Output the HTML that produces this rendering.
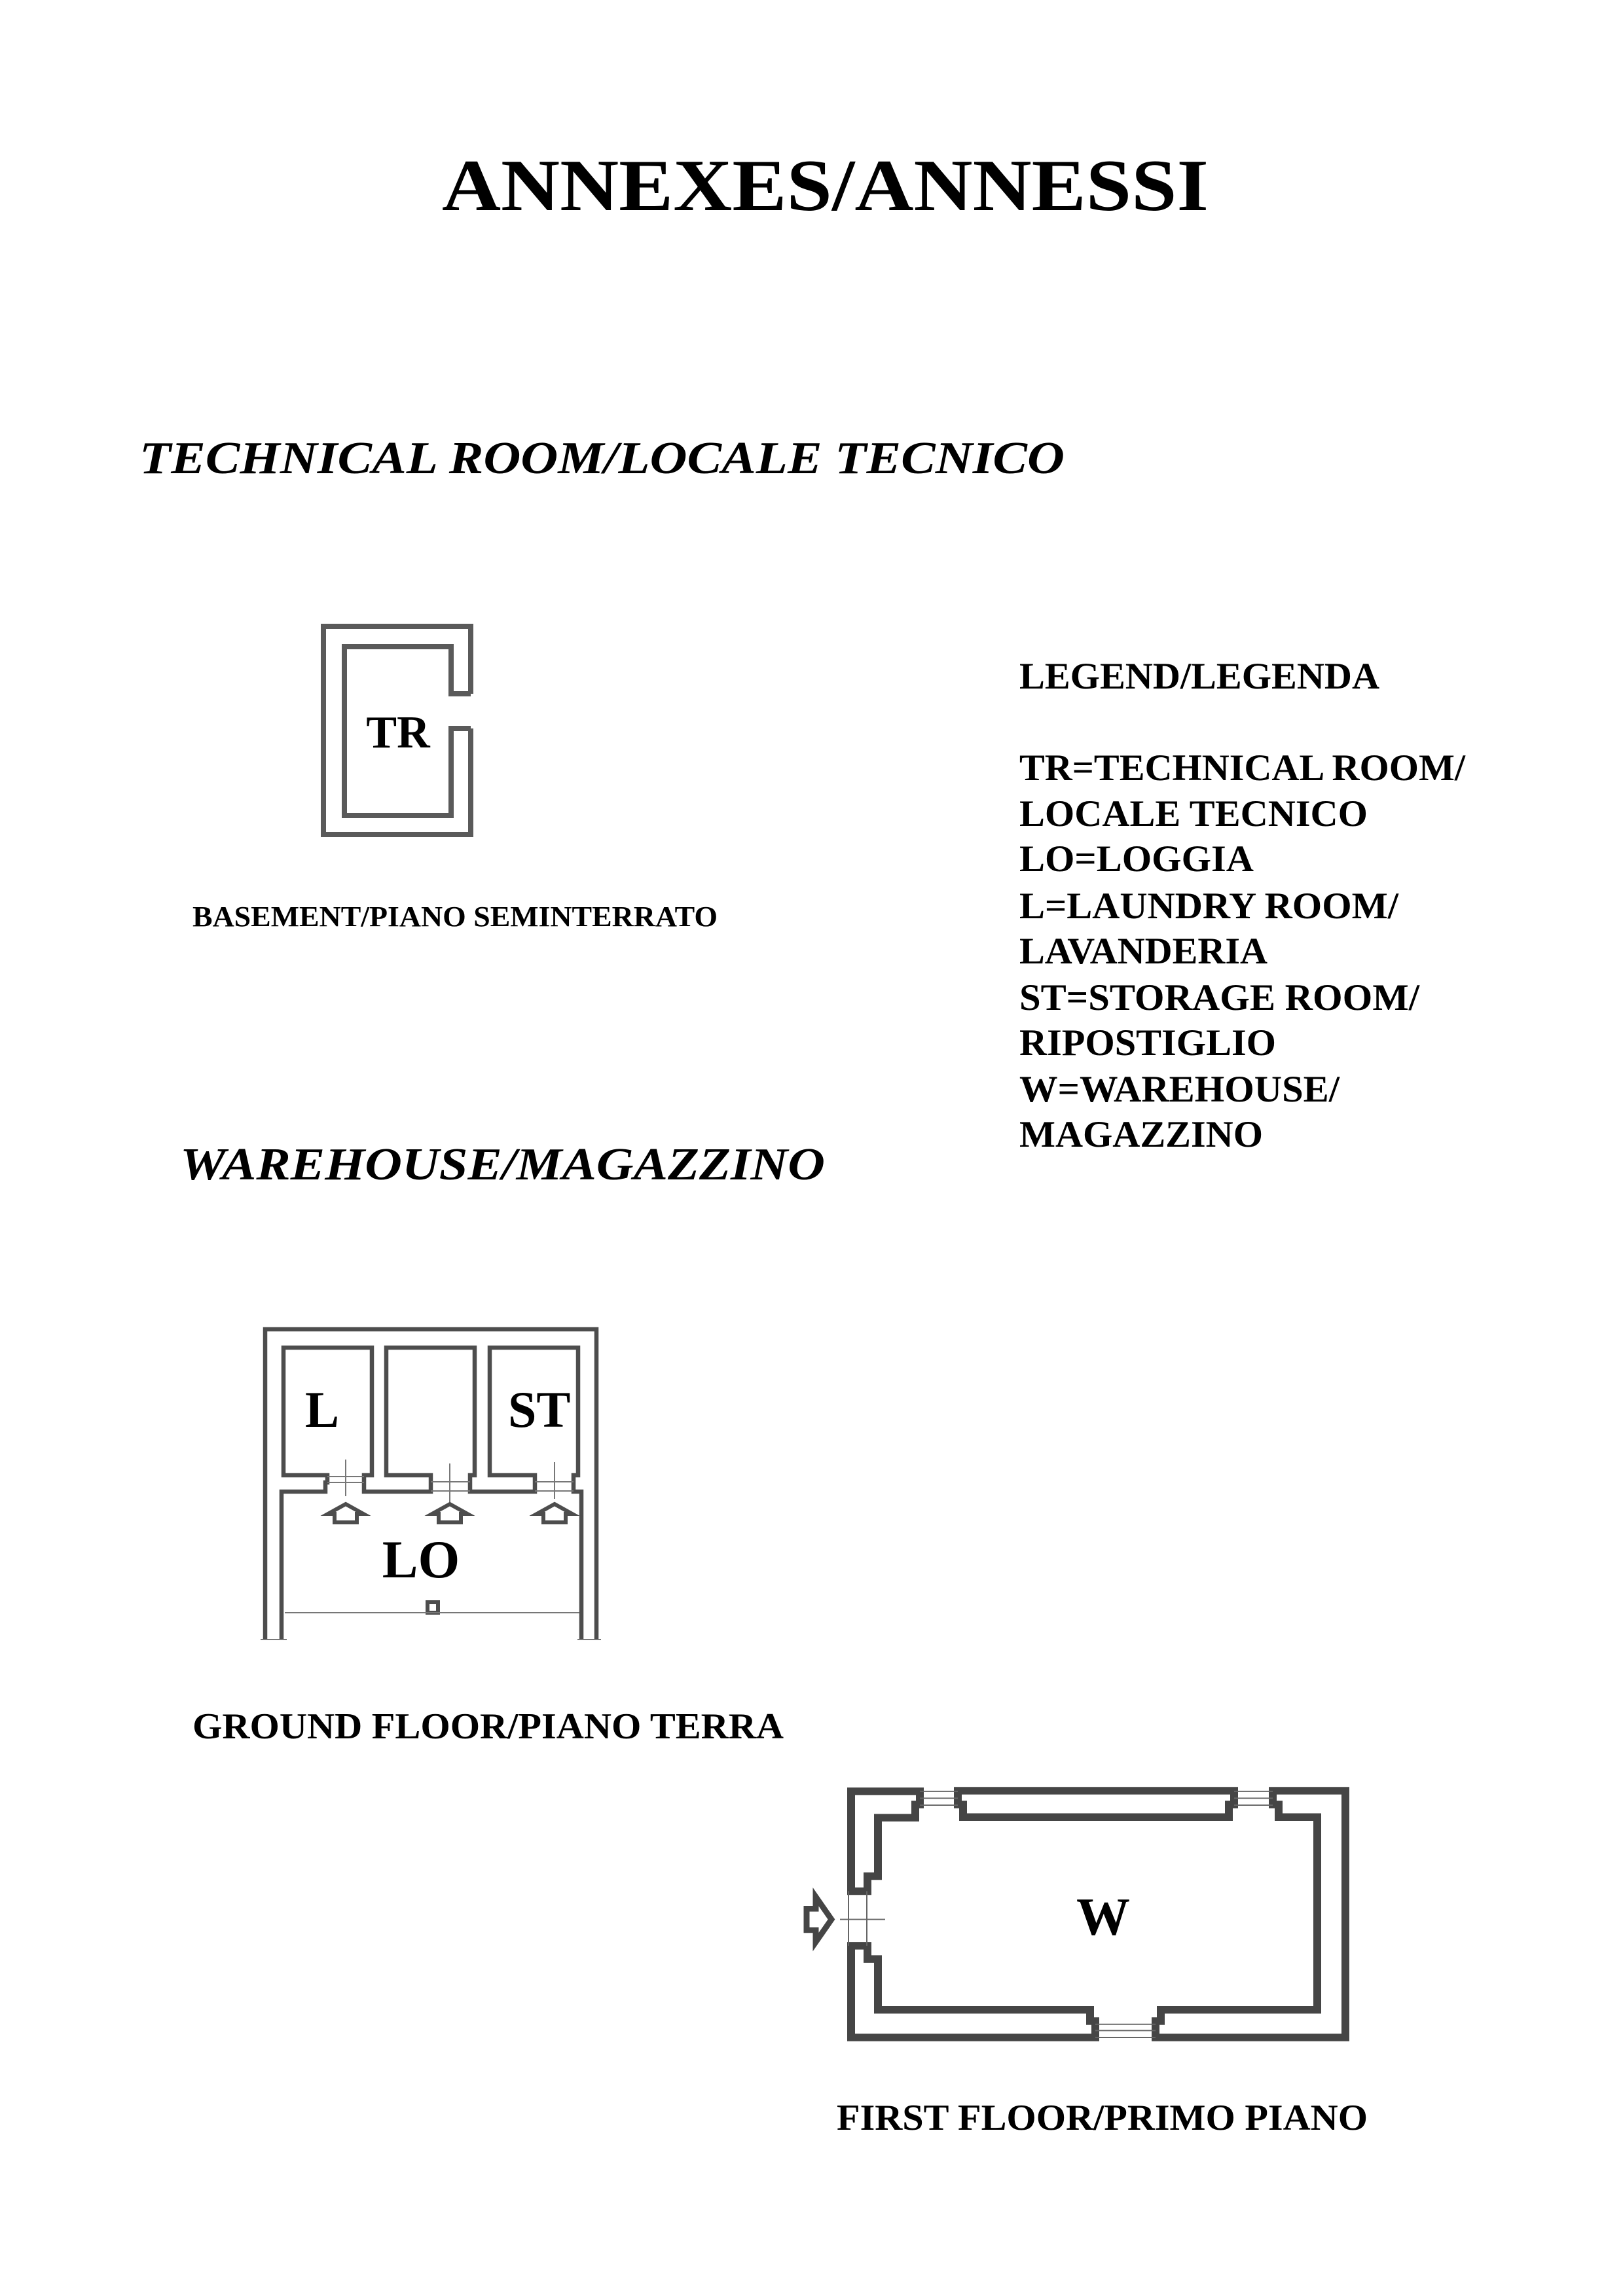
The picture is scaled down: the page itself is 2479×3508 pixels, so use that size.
<!DOCTYPE html>
<html><head><meta charset="utf-8"><style>
html,body{margin:0;padding:0;background:#fff;}
svg{display:block;}
text{font-family:"Liberation Serif",serif;font-weight:bold;fill:#000;}
</style></head><body>
<svg width="2479" height="3508" viewBox="0 0 2479 3508" xmlns="http://www.w3.org/2000/svg">
<rect width="2479" height="3508" fill="#fff"/>
<!-- Titles -->
<text x="675" y="321" font-size="112" textLength="1171" lengthAdjust="spacingAndGlyphs">ANNEXES/ANNESSI</text>
<text x="213" y="723" font-size="70" font-style="italic" textLength="1413" lengthAdjust="spacingAndGlyphs">TECHNICAL ROOM/LOCALE TECNICO</text>
<text x="294" y="1415" font-size="44" textLength="802" lengthAdjust="spacingAndGlyphs">BASEMENT/PIANO SEMINTERRATO</text>
<text x="275" y="1802" font-size="70" font-style="italic" textLength="985" lengthAdjust="spacingAndGlyphs">WAREHOUSE/MAGAZZINO</text>
<text x="294" y="2656" font-size="56" textLength="903" lengthAdjust="spacingAndGlyphs">GROUND FLOOR/PIANO TERRA</text>
<text x="1278" y="3254" font-size="56" textLength="811" lengthAdjust="spacingAndGlyphs">FIRST FLOOR/PRIMO PIANO</text>
<!-- Legend -->
<g font-size="57">
<text x="1557" y="1052" textLength="550" lengthAdjust="spacingAndGlyphs">LEGEND/LEGENDA</text>
<text x="1557" y="1192" textLength="681" lengthAdjust="spacingAndGlyphs">TR=TECHNICAL ROOM/</text>
<text x="1557" y="1262" textLength="532" lengthAdjust="spacingAndGlyphs">LOCALE TECNICO</text>
<text x="1557" y="1331" textLength="358" lengthAdjust="spacingAndGlyphs">LO=LOGGIA</text>
<text x="1557" y="1403" textLength="579" lengthAdjust="spacingAndGlyphs">L=LAUNDRY ROOM/</text>
<text x="1557" y="1472" textLength="379" lengthAdjust="spacingAndGlyphs">LAVANDERIA</text>
<text x="1557" y="1543" textLength="611" lengthAdjust="spacingAndGlyphs">ST=STORAGE ROOM/</text>
<text x="1557" y="1612" textLength="392" lengthAdjust="spacingAndGlyphs">RIPOSTIGLIO</text>
<text x="1557" y="1683" textLength="489" lengthAdjust="spacingAndGlyphs">W=WAREHOUSE/</text>
<text x="1557" y="1752" textLength="372" lengthAdjust="spacingAndGlyphs">MAGAZZINO</text>
</g>
<!-- TR plan -->
<g fill="none" stroke="#5a5a5a" stroke-width="8" stroke-linejoin="miter">
<polyline points="719,1060 719,957 494,957 494,1275 719,1275 719,1113"/>
<polyline points="719,1060 689,1060 689,988 526,988 526,1246 689,1246 689,1113 719,1113"/>
</g>
<text x="608" y="1142" font-size="70" text-anchor="middle">TR</text>
<!-- Ground floor plan -->
<g fill="none" stroke="#4d4d4d" stroke-width="6.5" stroke-linejoin="miter">
<polyline points="405,2505 405,2031 911,2031 911,2505"/>
<polyline points="430,2505 430,2279 497,2279 497,2265 500,2265 500,2254 433,2254 433,2059 568,2059 568,2254 556,2254 556,2279 658,2279 658,2254 590,2254 590,2059 725,2059 725,2254 718,2254 718,2279 817,2279 817,2254 748,2254 748,2059 883,2059 883,2254 876,2254 876,2279 888,2279 888,2505"/>
<rect x="653" y="2448" width="16" height="16" stroke-width="6"/>
</g>
<g stroke="#777" stroke-width="2" fill="none">
<line x1="500" y1="2256" x2="556" y2="2256"/><line x1="500" y1="2265" x2="556" y2="2265"/>
<line x1="658" y1="2264" x2="718" y2="2264"/><line x1="658" y1="2278" x2="718" y2="2278"/>
<line x1="817" y1="2264" x2="876" y2="2264"/><line x1="817" y1="2278" x2="876" y2="2278"/>
<line x1="528" y1="2230" x2="528" y2="2286"/>
<line x1="687" y1="2236" x2="687" y2="2295"/>
<line x1="847" y1="2234" x2="847" y2="2290"/>
<line x1="435" y1="2464" x2="885" y2="2464"/>
<line x1="398" y1="2505" x2="438" y2="2505"/><line x1="882" y1="2505" x2="918" y2="2505"/>
</g>
<g fill="none" stroke="#4d4d4d" stroke-width="6" stroke-linejoin="miter">
<polygon points="528,2298 555,2313 545,2313 545,2326 511,2326 511,2313 501,2313"/>
<polygon points="687,2298 714,2313 704,2313 704,2326 670,2326 670,2313 660,2313"/>
<polygon points="847,2298 874,2313 864,2313 864,2326 830,2326 830,2313 820,2313"/>
</g>
<text x="466" y="2180" font-size="78">L</text>
<text x="776" y="2180" font-size="78">ST</text>
<text x="643" y="2410" font-size="82" text-anchor="middle">LO</text>
<!-- First floor plan -->
<g transform="matrix(1 0 0 0.9593 0 102.7)">
<g fill="none" stroke="#454545" stroke-width="12" stroke-linejoin="miter">
<polygon points="1300,2746 1405,2746 1405,2767 1398,2767 1398,2788 1341,2788 1341,2881 1325,2881 1325,2905 1300,2905"/>
<polygon points="1463,2745 1885,2745 1885,2767 1877,2767 1877,2787 1471,2787 1471,2767 1463,2767"/>
<polygon points="1944,2745 2055,2745 2055,3138 1765,3138 1765,3112 1773,3112 1773,3094 2012,3094 2012,2787 1953,2787 1953,2767 1944,2767"/>
<polygon points="1300,2992 1325,2992 1325,3013 1341,3013 1341,3094 1665,3094 1665,3112 1673,3112 1673,3138 1300,3138"/>
<polygon points="1232,2933 1246,2933 1246,2914 1270,2950 1246,2986 1246,2967 1232,2967" stroke-width="9"/>
</g>
<g stroke="#666" stroke-width="2" fill="none">
<line x1="1405" y1="2746" x2="1463" y2="2746"/><line x1="1405" y1="2757" x2="1463" y2="2757"/><line x1="1405" y1="2768" x2="1463" y2="2768"/>
<line x1="1885" y1="2746" x2="1944" y2="2746"/><line x1="1885" y1="2757" x2="1944" y2="2757"/><line x1="1885" y1="2768" x2="1944" y2="2768"/>
<line x1="1673" y1="3117" x2="1765" y2="3117"/><line x1="1673" y1="3127" x2="1765" y2="3127"/><line x1="1673" y1="3138" x2="1765" y2="3138"/>
<line x1="1296" y1="2905" x2="1296" y2="2992"/><line x1="1324" y1="2905" x2="1324" y2="2992"/>
<line x1="1283" y1="2950" x2="1352" y2="2950"/>
</g>
</g>
<text x="1685" y="2956" font-size="82" text-anchor="middle">W</text>
</svg>
</body></html>
